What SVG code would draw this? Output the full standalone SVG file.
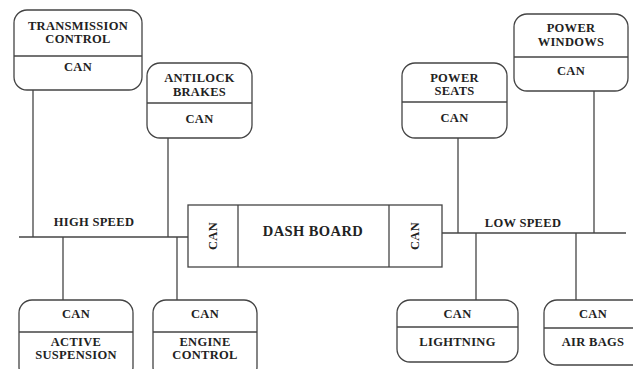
<svg xmlns="http://www.w3.org/2000/svg" width="633" height="369" viewBox="0 0 633 369">
<style>
.box{fill:#fff;stroke:#444;stroke-width:1.3}
.ln{stroke:#444;stroke-width:1.3;fill:none}
text{font-family:"Liberation Serif","Times New Roman",serif;font-weight:bold;font-size:12.5px;letter-spacing:0.3px;fill:#222;text-anchor:middle;dominant-baseline:central}
.big{font-size:14.5px;letter-spacing:0.4px}
</style>
<rect width="633" height="369" fill="#fff"/>
<g id="connectors">
<line class="ln" x1="19" y1="237" x2="188" y2="237"/>
<line class="ln" x1="442" y1="233" x2="626" y2="233"/>
<line class="ln" x1="33" y1="90" x2="33" y2="237"/>
<line class="ln" x1="168" y1="138" x2="168" y2="237"/>
<line class="ln" x1="63" y1="237" x2="63" y2="300"/>
<line class="ln" x1="177" y1="237" x2="177" y2="300"/>
<line class="ln" x1="458" y1="138" x2="458" y2="233"/>
<line class="ln" x1="594" y1="91" x2="594" y2="233"/>
<line class="ln" x1="476" y1="233" x2="476" y2="300"/>
<line class="ln" x1="576" y1="233" x2="576" y2="300"/>
<text x="94" y="222">HIGH SPEED</text>
<text x="523" y="223">LOW SPEED</text>
</g>
<g id="transmission">
<rect class="box" x="14" y="10" width="128" height="80" rx="13"/>
<line class="ln" x1="14" y1="56" x2="142" y2="56"/>
<text x="78" y="26">TRANSMISSION</text>
<text x="78" y="39">CONTROL</text>
<text x="78" y="67">CAN</text>
</g>
<g id="antilock">
<rect class="box" x="147" y="63" width="105" height="75" rx="13"/>
<line class="ln" x1="147" y1="103" x2="252" y2="103"/>
<text x="199.5" y="78">ANTILOCK</text>
<text x="199.5" y="92">BRAKES</text>
<text x="199.5" y="119">CAN</text>
</g>
<g id="powerseats">
<rect class="box" x="402" y="63" width="105" height="75" rx="13"/>
<line class="ln" x1="402" y1="102" x2="507" y2="102"/>
<text x="454.5" y="78">POWER</text>
<text x="454.5" y="91">SEATS</text>
<text x="454.5" y="118">CAN</text>
</g>
<g id="powerwindows">
<rect class="box" x="514" y="14" width="114" height="77" rx="13"/>
<line class="ln" x1="514" y1="57" x2="628" y2="57"/>
<text x="571" y="28">POWER</text>
<text x="571" y="42">WINDOWS</text>
<text x="571" y="71">CAN</text>
</g>
<g id="dashboard">
<rect class="box" x="188" y="205" width="254" height="62"/>
<line class="ln" x1="238" y1="205" x2="238" y2="267"/>
<line class="ln" x1="389" y1="205" x2="389" y2="267"/>
<text class="big" x="313" y="231">DASH BOARD</text>
<text transform="translate(213 236) rotate(-90)">CAN</text>
<text transform="translate(415 236) rotate(-90)">CAN</text>
</g>
<g id="activesuspension">
<rect class="box" x="19" y="300" width="114" height="80" rx="13"/>
<line class="ln" x1="19" y1="332" x2="133" y2="332"/>
<text x="76" y="314">CAN</text>
<text x="76" y="342">ACTIVE</text>
<text x="76" y="355">SUSPENSION</text>
</g>
<g id="enginecontrol">
<rect class="box" x="153" y="300" width="104" height="80" rx="13"/>
<line class="ln" x1="153" y1="332" x2="257" y2="332"/>
<text x="205" y="314">CAN</text>
<text x="205" y="342">ENGINE</text>
<text x="205" y="355">CONTROL</text>
</g>
<g id="lightning">
<rect class="box" x="397" y="300" width="121" height="62" rx="13"/>
<line class="ln" x1="397" y1="327" x2="518" y2="327"/>
<text x="457.5" y="314">CAN</text>
<text x="457.5" y="342">LIGHTNING</text>
</g>
<g id="airbags">
<rect class="box" x="544" y="300" width="110" height="65" rx="13"/>
<line class="ln" x1="544" y1="328" x2="640" y2="328"/>
<text x="593" y="314">CAN</text>
<text x="593" y="342">AIR BAGS</text>
</g>
</svg>
